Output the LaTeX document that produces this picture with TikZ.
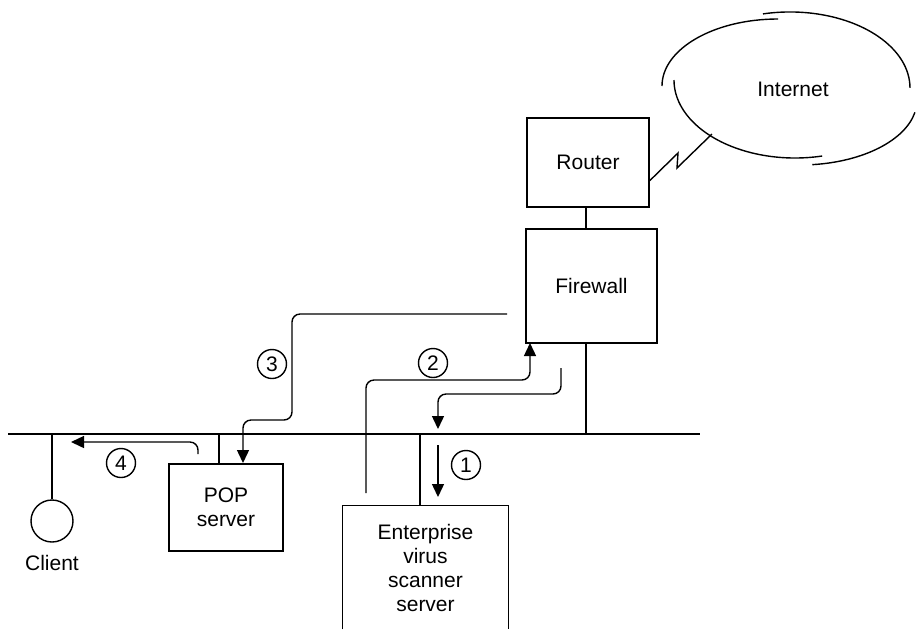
\documentclass[tikz,border=0pt]{standalone}
\usepackage{fontspec}
\setmainfont{Liberation Sans}
\usetikzlibrary{arrows.meta}
\tikzset{
  wire/.style={line width=0.7pt},
  box/.style={draw, line width=0.7pt, align=center, inner sep=0pt},
  stepno/.style={circle, draw, line width=0.7pt, minimum size=14.5pt, inner sep=0pt},
  flow/.style={line width=0.7pt, rounded corners=4pt, -{Triangle[width=6pt,length=6.5pt]}},
  every node/.style={font=\fontsize{10.5}{12}\selectfont}
}

\begin{document}
\begin{tikzpicture}[x=0.5pt,y=-0.5pt]
\useasboundingbox (0,0) rectangle (917,629);

%LAN bus
\coordinate (busW) at (8,434);
\coordinate (busE) at (700,434);
\coordinate (tapC) at (52,434);
\coordinate (tapP) at (219,434);
\coordinate (tapS) at (420,434);
\coordinate (tapF) at (586,434);
\draw[wire] (busW) -- (busE);

%Router and firewall
\node[box, minimum width=61pt, minimum height=44.5pt] (router) at (588,162.5) {Router};
\node[box, minimum width=65.5pt, minimum height=57pt] (firewall) at (591.5,286) {Firewall};
\draw[wire] (router.south -| tapF) -- (firewall.north -| tapF);
\draw[wire] (firewall.south -| tapF) -- (tapF);

%Internet cloud
\node (internet) at (793,89) {Internet};
\draw[wire] (662,86) arc[start angle=180, end angle=270, x radius=116, y radius=67];
\draw[wire] (763,13.9) arc[start angle=257, end angle=360, x radius=120, y radius=76];
\draw[wire] (914.9,112.4) arc[start angle=11, end angle=84, x radius=117, y radius=65];
\draw[wire] (822.2,156) arc[start angle=77, end angle=180, x radius=121, y radius=78];
\coordinate (cloudtap) at (712,134);
\draw[wire] (router.south east) ++(0,-27) -- (678,153) -- (677,168) -- (cloudtap);

%Client
\node[circle, draw, line width=0.7pt, minimum size=21pt, inner sep=0pt,
  label={[label distance=3pt]below:Client}] (client) at (52,521) {};
\draw[wire] (tapC) -- (client.north);

%POP server
\node[box, minimum width=57pt, minimum height=43.5pt] (pop) at (226,507.5) {POP\\server};
\draw[wire] (tapP) -- (tapP |- pop.north);

%Enterprise virus scanner server (open at the bottom)
\node[minimum width=82.5pt, minimum height=61.5pt, align=center, inner sep=0pt] (scanner) at (425.5,567.5)
  {Enterprise\\virus\\scanner\\server};
\draw[wire] (scanner.south west) -- (scanner.north west) -- (scanner.north east) -- (scanner.south east);
\draw[wire] (tapS) -- (tapS |- scanner.north);

%Step 1: mail goes to the scanner
\coordinate (s1) at (438,445);
\coordinate (e1) at (438,497);
\draw[flow] (s1) -- (e1);
\node[stepno] (no1) at (466,465) {1};

%Step 2: scanner back to the firewall
\coordinate (s2) at (366,493);
\coordinate (e2) at (530,343);
\draw[flow] (s2) -- (366,380) -- (530,380) -- (e2);
\node[stepno] (no2) at (433,363) {2};

%Firewall down to the bus
\coordinate (sF) at (561,368);
\coordinate (eF) at (438,429);
\draw[flow] (sF) -- (561,394) -- (438,394) -- (eF);

%Step 3: firewall to the POP server
\coordinate (s3) at (507,314);
\draw[flow] (s3) -- (292,314) -- (292,420) -- (243,420) -- (243,463);
\node[stepno] (no3) at (272,364) {3};

%Step 4: POP server to the client
\coordinate (s4) at (198,454);
\coordinate (e4) at (71,442);
\draw[flow] (s4) -- (198,442) -- (e4);
\node[stepno] (no4) at (121,463) {4};
\end{tikzpicture}
\end{document}
